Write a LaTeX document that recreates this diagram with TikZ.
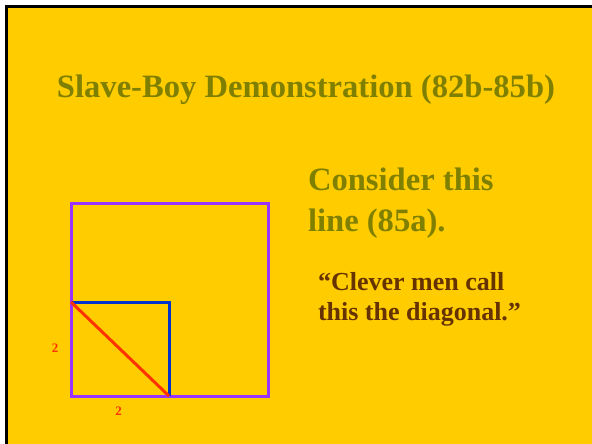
\documentclass[tikz,border=0pt]{standalone}
\usepackage{fontspec}
\setmainfont{Liberation Serif}
\usetikzlibrary{positioning}

\definecolor{slideyellow}{HTML}{FFCC00}
\definecolor{olivetext}{HTML}{808000}
\definecolor{browntext}{HTML}{663300}
\definecolor{purpleline}{HTML}{9933FF}
\definecolor{blueline}{HTML}{0033CC}
\definecolor{redline}{HTML}{FF3300}

\begin{document}
\begin{tikzpicture}[
    x=1pt, y=-1pt,
    every node/.style={inner sep=0pt, outer sep=0pt},
    heading/.style={
        font=\fontsize{32.6}{41}\selectfont\bfseries,
        text=olivetext, align=left
    },
    quote/.style={
        font=\fontsize{26}{29.5}\selectfont\bfseries,
        text=browntext, align=left
    },
    sidelabel/.style={
        font=\fontsize{13}{14}\selectfont\bfseries,
        text=redline
    },
    outerbox/.style={draw=purpleline, line width=3pt},
    innerbox/.style={draw=blueline, line width=3pt},
    diagline/.style={draw=redline, line width=3pt},
]

\useasboundingbox (0,0) rectangle (592,444);
\fill[white] (0,0) rectangle (592,444);
\fill[slideyellow] (5,5) rectangle (592,444);
\draw[black, line width=3pt] (6.5,444) -- (6.5,6.5) -- (592,6.5);

% Nodes
\node (title) [heading, anchor=base] at (306,98) {Slave-Boy Demonstration (82b-85b)};

\node (consider) [heading, anchor=base west] at (308,231) {Consider this\\line (85a).};

\node (clever) [quote, anchor=base west] at (318,320) {“Clever men call\\this the diagonal.”};

% Squares
\coordinate (a) at (71,396);
\coordinate (b) at (169,396);
\coordinate (c) at (71,302);

\draw [outerbox] (71,203) rectangle (268,396);
\draw [innerbox] (c) -| (b);
\draw [diagline] (c) -- (b);

\node (left2) [sidelabel] at (55,348.5) {2};
\node (bottom2) [sidelabel] at (118.5,411.5) {2};

\end{tikzpicture}
\end{document}
